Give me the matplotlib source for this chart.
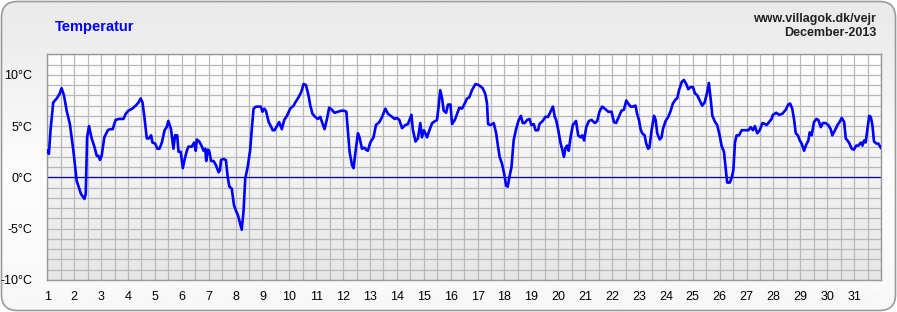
import numpy as np
import matplotlib
matplotlib.use("Agg")
import matplotlib.pyplot as plt
from matplotlib.patches import FancyBboxPatch
from matplotlib.ticker import MultipleLocator, FixedLocator

plt.rcParams['font.family'] = ['Liberation Sans', 'DejaVu Sans']

# -----------------------------
# Data (day of month, temperature in °C)
# -----------------------------
day = [
    1.00, 1.06, 1.12, 1.22, 1.35, 1.45, 1.53, 1.62, 1.72, 1.84, 1.97, 2.09, 2.15, 2.25, 2.38,
    2.43, 2.48, 2.55, 2.65, 2.75, 2.84, 2.90, 2.96, 3.02, 3.12, 3.25, 3.33, 3.43, 3.54, 3.67,
    3.83, 3.92, 4.01, 4.16, 4.29, 4.39, 4.47, 4.54, 4.61, 4.70, 4.78, 4.86, 4.91, 5.01, 5.09,
    5.17, 5.26, 5.36, 5.44, 5.50, 5.60, 5.69, 5.75, 5.83, 5.88, 5.96, 6.04, 6.10, 6.19, 6.25,
    6.37, 6.46, 6.52, 6.56, 6.65, 6.75, 6.81, 6.87, 6.91, 6.97, 7.02, 7.09, 7.18, 7.27, 7.37,
    7.42, 7.46, 7.55, 7.64, 7.71, 7.77, 7.86, 7.94, 8.01, 8.09, 8.17, 8.23, 8.30, 8.36, 8.45,
    8.54, 8.61, 8.67, 8.76, 8.88, 8.94, 9.00, 9.07, 9.13, 9.23, 9.29, 9.38, 9.45, 9.54, 9.62,
    9.72, 9.81, 9.91, 10.03, 10.16, 10.22, 10.34, 10.44, 10.53, 10.62, 10.72, 10.78, 10.86, 10.96, 11.06,
    11.15, 11.24, 11.31, 11.40, 11.48, 11.58, 11.68, 11.81, 11.93, 12.04, 12.12, 12.18, 12.24, 12.33, 12.39,
    12.45, 12.55, 12.61, 12.70, 12.80, 12.85, 12.92, 13.01, 13.13, 13.22, 13.35, 13.45, 13.57, 13.67, 13.82,
    13.92, 14.00, 14.09, 14.19, 14.31, 14.41, 14.54, 14.59, 14.69, 14.78, 14.87, 14.93, 15.00, 15.06, 15.12,
    15.21, 15.31, 15.43, 15.49, 15.55, 15.61, 15.68, 15.74, 15.83, 15.90, 15.99, 16.05, 16.15, 16.24, 16.32,
    16.42, 16.52, 16.61, 16.69, 16.79, 16.92, 17.04, 17.19, 17.29, 17.35, 17.39, 17.48, 17.60, 17.69, 17.76,
    17.82, 17.91, 18.00, 18.06, 18.12, 18.18, 18.26, 18.34, 18.43, 18.53, 18.61, 18.68, 18.75, 18.84, 18.93,
    19.00, 19.09, 19.15, 19.25, 19.30, 19.42, 19.52, 19.62, 19.71, 19.80, 19.87, 19.92, 20.00, 20.08, 20.14,
    20.21, 20.27, 20.33, 20.39, 20.45, 20.54, 20.66, 20.74, 20.83, 20.89, 20.96, 21.04, 21.14, 21.24, 21.36,
    21.45, 21.53, 21.63, 21.73, 21.86, 21.98, 22.07, 22.15, 22.25, 22.35, 22.44, 22.53, 22.60, 22.69, 22.77,
    22.87, 22.93, 23.00, 23.06, 23.12, 23.21, 23.27, 23.34, 23.39, 23.47, 23.56, 23.62, 23.68, 23.77, 23.84,
    23.89, 23.99, 24.09, 24.18, 24.26, 24.36, 24.42, 24.49, 24.59, 24.67, 24.76, 24.83, 24.92, 25.01, 25.08,
    25.17, 25.26, 25.35, 25.44, 25.52, 25.60, 25.66, 25.73, 25.83, 25.91, 26.00, 26.07, 26.16, 26.22, 26.28,
    26.38, 26.45, 26.51, 26.57, 26.63, 26.72, 26.82, 26.94, 27.07, 27.15, 27.24, 27.31, 27.40, 27.49, 27.59,
    27.69, 27.75, 27.84, 27.93, 27.98, 28.11, 28.21, 28.33, 28.46, 28.55, 28.62, 28.70, 28.77, 28.83, 28.91,
    28.98, 29.05, 29.14, 29.22, 29.30, 29.35, 29.42, 29.51, 29.60, 29.67, 29.76, 29.84, 29.94, 30.04, 30.13,
    30.19, 30.29, 30.38, 30.46, 30.54, 30.63, 30.69, 30.81, 30.91, 30.99, 31.08, 31.16, 31.25, 31.31, 31.37,
    31.43, 31.49, 31.56, 31.62, 31.68, 31.74, 31.83, 31.90, 31.99,
]
temp = [
    2.6, 2.3, 4.6, 7.3, 7.7, 8.1, 8.7, 8.0, 6.5, 5.2, 2.6, -0.3, -0.8, -1.6, -2.1,
    -1.6, 3.9, 5.0, 3.8, 3.0, 2.1, 2.1, 1.7, 2.1, 3.9, 4.6, 4.7, 4.7, 5.6, 5.7,
    5.7, 6.2, 6.5, 6.7, 7.0, 7.3, 7.7, 7.3, 5.9, 3.8, 3.8, 4.1, 3.4, 3.3, 2.8,
    2.8, 3.4, 4.6, 4.9, 5.5, 4.7, 2.8, 4.1, 4.1, 2.5, 2.5, 0.9, 1.7, 2.6, 3.0,
    3.0, 3.4, 2.6, 3.7, 3.5, 3.0, 2.6, 2.8, 1.6, 2.7, 2.6, 1.6, 1.6, 1.2, 0.5,
    0.7, 1.7, 1.8, 1.7, 0.0, -0.9, -1.1, -2.7, -3.2, -3.7, -4.5, -5.1, -3.2, -0.1, 1.0,
    2.6, 4.9, 6.7, 6.9, 6.9, 6.9, 6.4, 6.7, 6.5, 5.4, 5.1, 4.6, 4.6, 5.0, 5.4,
    4.7, 5.6, 6.0, 6.7, 7.0, 7.3, 7.8, 8.3, 9.1, 9.0, 7.9, 7.0, 6.2, 5.9, 5.7,
    5.9, 5.2, 4.7, 5.7, 6.8, 6.6, 6.3, 6.4, 6.5, 6.5, 6.4, 4.4, 2.5, 1.2, 0.9,
    2.3, 4.3, 3.9, 2.8, 2.9, 2.7, 2.6, 3.4, 3.9, 5.1, 5.4, 5.9, 6.7, 6.2, 5.9,
    5.7, 5.8, 5.6, 4.8, 5.1, 5.2, 6.1, 4.7, 3.5, 3.8, 5.3, 3.9, 4.6, 4.3, 3.9,
    4.6, 5.3, 5.5, 5.6, 6.9, 8.5, 7.7, 6.5, 6.3, 7.1, 7.1, 5.2, 5.6, 6.2, 6.8,
    6.7, 7.2, 7.7, 7.8, 8.5, 9.1, 9.0, 8.7, 8.1, 7.2, 5.2, 5.1, 5.3, 4.3, 3.0,
    2.0, 1.3, 0.2, -0.8, -0.9, 0.0, 1.0, 3.6, 4.7, 5.6, 6.0, 5.3, 5.3, 5.6, 5.7,
    5.1, 5.2, 4.6, 4.6, 5.2, 5.5, 5.9, 5.9, 6.4, 6.9, 5.9, 5.6, 4.6, 3.4, 2.8,
    2.0, 2.9, 3.1, 2.6, 3.8, 5.1, 5.5, 4.1, 3.9, 4.1, 3.6, 4.9, 5.5, 5.6, 5.3,
    5.5, 6.4, 6.9, 6.7, 6.4, 6.4, 5.4, 5.3, 5.9, 6.5, 6.6, 7.5, 7.2, 6.9, 6.9,
    7.0, 6.2, 5.6, 4.7, 4.3, 4.1, 3.3, 2.8, 2.9, 4.6, 6.0, 5.6, 4.3, 3.7, 3.9,
    4.7, 5.5, 5.9, 6.5, 7.2, 7.6, 7.7, 8.5, 9.3, 9.5, 9.1, 8.6, 8.8, 8.8, 8.2,
    8.0, 7.5, 7.0, 7.3, 8.1, 9.2, 7.8, 6.0, 5.4, 5.1, 4.1, 3.1, 2.5, 1.0, -0.5,
    -0.5, 0.0, 0.7, 3.4, 4.1, 4.1, 4.6, 4.6, 4.6, 4.9, 4.6, 5.0, 4.3, 4.6, 5.3,
    5.2, 5.1, 5.4, 5.7, 6.1, 6.3, 6.1, 6.2, 6.6, 7.1, 7.2, 6.7, 5.6, 4.3, 4.1,
    3.6, 3.3, 2.6, 3.2, 3.6, 4.4, 4.1, 5.4, 5.7, 5.6, 4.9, 5.3, 5.3, 5.1, 4.7,
    4.1, 4.6, 5.1, 5.4, 5.8, 5.4, 3.8, 3.4, 2.8, 2.7, 3.1, 3.1, 3.4, 3.1, 3.6,
    3.4, 4.6, 6.0, 5.9, 5.1, 3.5, 3.3, 3.3, 2.9,
]

day_labels = [str(d) for d in range(1, 32)]
y_major = [-10, -5, 0, 5, 10]
y_labels = ["-10°C", "-5°C", "0°C", "5°C", "10°C"]

title = "Temperatur"
site = "www.villagok.dk/vejr"
period = "December-2013"

# -----------------------------
# Figure with rounded grey panel
# -----------------------------
W, H = 897, 312
fig = plt.figure(figsize=(W / 100, H / 100), dpi=100)
fig.patch.set_facecolor("white")

bg = fig.add_axes([0, 0, 1, 1])
bg.set_xlim(0, W)
bg.set_ylim(0, H)
bg.axis("off")
panel = FancyBboxPatch((1.5, 1.5), W - 3, H - 3,
                       boxstyle="round,pad=0,rounding_size=16",
                       facecolor="none", edgecolor="#9a9a9a", lw=1.2, zorder=3)
bg.add_patch(panel)
# vertical gradient: grey at top, near white in the middle, light grey at bottom
g = np.interp(np.linspace(0, 1, 256), [0, 0.45, 0.85, 1.0], [0.97, 0.99, 0.93, 0.915])
img = bg.imshow(g[:, None], extent=(0, W, 0, H), origin="lower", cmap="gray",
                vmin=0, vmax=1, aspect="auto", zorder=1)
img.set_clip_path(panel)

# -----------------------------
# Main axes
# -----------------------------
ax = fig.add_axes([47.3 / W, 32 / H, (881 - 47.3) / W, (280 - 54.3) / H])
ax.set_xlim(1, 32)
ax.set_ylim(-10, 12)

# plot-area gradient (white at top -> light grey at bottom)
pg = np.linspace(0.90, 1.0, 256)
ax.imshow(pg[:, None], extent=(1, 32, -10, 12), origin="lower", cmap="gray",
          vmin=0, vmax=1, aspect="auto", zorder=0)

ax.xaxis.set_major_locator(FixedLocator(range(1, 32)))
ax.set_xticklabels(day_labels)
ax.xaxis.set_minor_locator(MultipleLocator(0.5))
ax.yaxis.set_major_locator(FixedLocator(y_major))
ax.set_yticklabels(y_labels)
ax.yaxis.set_minor_locator(MultipleLocator(1))

ax.grid(True, which="both", color="#b8b8b8", lw=0.9, zorder=1)
ax.set_axisbelow(True)
ax.tick_params(which="both", length=0, labelsize=9, colors="black")
ax.tick_params(axis="y", pad=11)
ax.tick_params(axis="x", pad=8)
for s in ax.spines.values():
    s.set_color("#999999")
    s.set_linewidth(1.0)

ax.axhline(0, color="#0000b0", lw=0.9, zorder=2)
ax.plot(day, temp, color="#0000ff", lw=1.9, zorder=3, solid_joinstyle="round")

fig.text(55 / W, 1 - 27 / H, title, color="#0000ff", fontsize=10.5,
         fontweight="bold", ha="left", va="center")
fig.text(876 / W, 1 - 19 / H, site, color="#222222", fontsize=9,
         fontweight="bold", ha="right", va="center")
fig.text(876 / W, 1 - 33 / H, period, color="#222222", fontsize=9,
         fontweight="bold", ha="right", va="center")

fig.savefig("out.png", dpi=100)
